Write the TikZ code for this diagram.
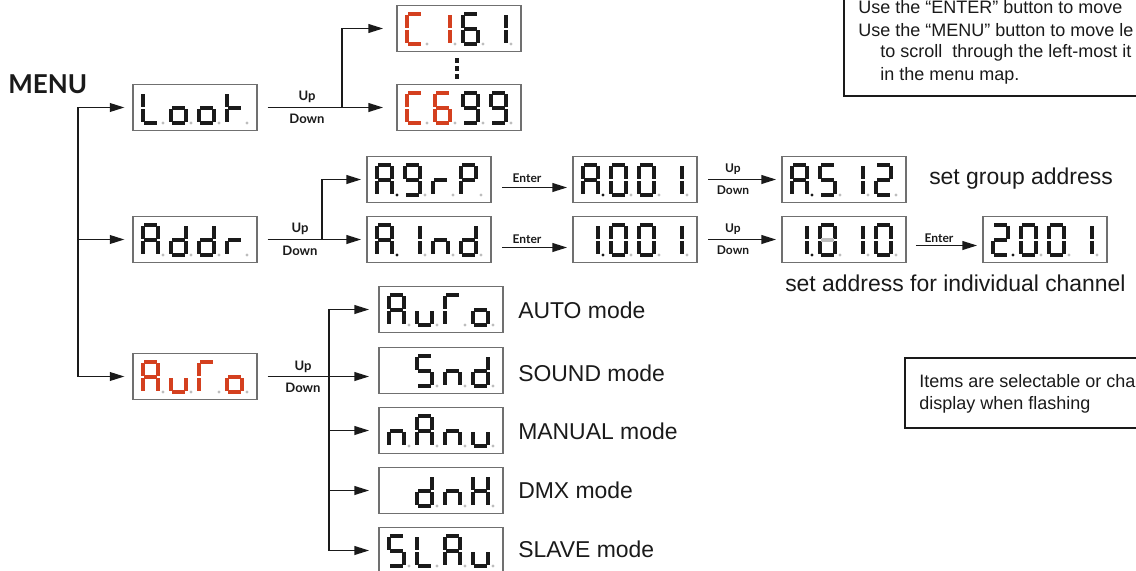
\documentclass[tikz,border=0pt]{standalone}
\usepackage{fontspec}
\setmainfont{Liberation Sans}
\newfontfamily\lbl{Lato}
\usetikzlibrary{arrows.meta}
\definecolor{segblack}{HTML}{1A1A1A}
\definecolor{segred}{HTML}{D4401F}
\definecolor{dpgray}{HTML}{BDBDBD}
\definecolor{boxgray}{HTML}{707070}
% segment sets (a top, b top-right, c bottom-right, d bottom, e bottom-left, f top-left, g middle)
\def\sgA{a,b,c,e,f,g}
\def\sgC{a,d,e,f}
\def\sgH{b,c,e,f,g}
\def\sgL{d,e,f}
\def\sgP{a,b,e,f,g}
\def\sgS{a,c,d,f,g}
\def\sgd{b,c,d,e,g}
\def\sgg{a,b,c,d,f,g}
\def\sgn{c,e,g}
\def\sgo{c,d,e,g}
\def\sgr{e,g}
\def\sgt{e,f,g}
\def\sgu{c,d,e}
\def\sgG{a,e,f}
\def\sgZero{a,b,c,d,e,f}
\def\sgOne{b,c}
\def\sgTwo{a,b,d,e,g}
\def\sgFive{a,c,d,f,g}
\def\sgSix{a,c,d,e,f,g}
\def\sgNine{a,b,c,d,f,g}
\newcommand\drawseg[2]{%
 \if a#1\draw[segl,#2] (1.3,0)--(13.7,0);\fi
 \if b#1\draw[segl,#2] (15,1.3)--(15,13.7);\fi
 \if c#1\draw[segl,#2] (15,16.3)--(15,28.7);\fi
 \if d#1\draw[segl,#2] (1.3,30)--(13.7,30);\fi
 \if e#1\draw[segl,#2] (0,16.3)--(0,28.7);\fi
 \if f#1\draw[segl,#2] (0,1.3)--(0,13.7);\fi
 \if g#1\draw[segl,#2] (1.3,15)--(13.7,15);\fi}
% #1 L, #2 T, #3 slot, #4 glyph macro, #5 colour
\newcommand\dig[5]{\begin{scope}[shift={(#1+10+28*#3,#2+9)}]\foreach \s in #4 {\drawseg{\s}{#5}}\end{scope}}
% decimal points: #1 L, #2 T, #3..#6 colours
\newcommand\dpdots[6]{%
 \fill[#3] (#1+30,#2+39) circle (1.6);
 \fill[#4] (#1+58,#2+39) circle (1.6);
 \fill[#5] (#1+86,#2+39) circle (1.6);
 \fill[#6] (#1+114,#2+39) circle (1.6);}
\newcommand\dbox[3]{\node[dispbox] (#1) at (#2+62,#3+23.5) {};}
\tikzset{
 segl/.style={line width=2.4pt, line cap=butt},
 dispbox/.style={draw=boxgray, line width=0.8pt, minimum width=93pt, minimum height=35pt, inner sep=0pt},
 conn/.style={line width=1.3pt, draw=segblack},
 arr/.style={conn, -{Triangle[length=11pt,width=6.5pt]}, shorten >=4pt},
 udlab/.style={font=\lbl\bfseries\fontsize{9.8}{10}\selectfont, inner sep=0pt, text=segblack},
 smlab/.style={font=\lbl\bfseries\fontsize{9}{10}\selectfont, inner sep=0pt, text=segblack},
 body/.style={font=\fontsize{17.2}{20}\selectfont, inner sep=0pt, anchor=west, text=segblack},
 note/.style={font=\fontsize{13.5}{16}\selectfont, inner sep=0pt, anchor=west, text=segblack},
}
\begin{document}
\begin{tikzpicture}[x=0.75pt,y=-0.75pt]
\useasboundingbox (0,0) rectangle (1136,571);
\clip (0,0) rectangle (1136,571);

\node[font=\lbl\bfseries\fontsize{19.5}{20}\selectfont, anchor=west, inner sep=0pt, text=segblack] (menu) at (8,84) {MENU};

% ---- displays ----
\dbox{loot}{133}{84}
\dig{133}{84}{0}{\sgL}{segblack}\dig{133}{84}{1}{\sgo}{segblack}\dig{133}{84}{2}{\sgo}{segblack}\dig{133}{84}{3}{\sgt}{segblack}
\dpdots{133}{84}{dpgray}{dpgray}{dpgray}{dpgray}

\dbox{addr}{133}{216}
\dig{133}{216}{0}{\sgA}{segblack}\dig{133}{216}{1}{\sgd}{segblack}\dig{133}{216}{2}{\sgd}{segblack}\dig{133}{216}{3}{\sgr}{segblack}
\dpdots{133}{216}{dpgray}{dpgray}{dpgray}{dpgray}

\dbox{auto}{133}{353}
\dig{133}{353}{0}{\sgA}{segred}\dig{133}{353}{1}{\sgu}{segred}\dig{133}{353}{2}{\sgG}{segred}\dig{133}{353}{3}{\sgo}{segred}
\dpdots{133}{353}{dpgray}{dpgray}{dpgray}{dpgray}

\dbox{cfirst}{397}{5}
\dig{397}{5}{0}{\sgC}{segred}\dig{397}{5}{1}{\sgOne}{segred}\dig{397}{5}{2}{\sgSix}{segblack}\dig{397}{5}{3}{\sgOne}{segblack}
\dpdots{397}{5}{dpgray}{dpgray}{dpgray}{dpgray}

\dbox{clast}{397}{84}
\dig{397}{84}{0}{\sgC}{segred}\dig{397}{84}{1}{\sgSix}{segred}\dig{397}{84}{2}{\sgNine}{segblack}\dig{397}{84}{3}{\sgNine}{segblack}
\dpdots{397}{84}{dpgray}{dpgray}{dpgray}{dpgray}

\fill[segblack] (455,58) rectangle (459,63);
\fill[segblack] (455,66) rectangle (459,71);
\fill[segblack] (455,74) rectangle (459,79);

\dbox{agrp}{367}{156}
\dig{367}{156}{0}{\sgA}{segblack}\dig{367}{156}{1}{\sgg}{segblack}\dig{367}{156}{2}{\sgr}{segblack}\dig{367}{156}{3}{\sgP}{segblack}
\dpdots{367}{156}{segblack}{dpgray}{dpgray}{dpgray}

\dbox{aind}{367}{216}
\dig{367}{216}{0}{\sgA}{segblack}\dig{367}{216}{1}{\sgOne}{segblack}\dig{367}{216}{2}{\sgn}{segblack}\dig{367}{216}{3}{\sgd}{segblack}
\dpdots{367}{216}{segblack}{dpgray}{dpgray}{dpgray}

\dbox{aone}{573}{156}
\dig{573}{156}{0}{\sgA}{segblack}\dig{573}{156}{1}{\sgZero}{segblack}\dig{573}{156}{2}{\sgZero}{segblack}\dig{573}{156}{3}{\sgOne}{segblack}
\dpdots{573}{156}{segblack}{dpgray}{dpgray}{dpgray}

\dbox{afive}{782}{156}
\dig{782}{156}{0}{\sgA}{segblack}\dig{782}{156}{1}{\sgFive}{segblack}\dig{782}{156}{2}{\sgOne}{segblack}\dig{782}{156}{3}{\sgTwo}{segblack}
\dpdots{782}{156}{segblack}{dpgray}{dpgray}{dpgray}

\dbox{ione}{573}{216}
\dig{573}{216}{0}{\sgOne}{segblack}\dig{573}{216}{1}{\sgZero}{segblack}\dig{573}{216}{2}{\sgZero}{segblack}\dig{573}{216}{3}{\sgOne}{segblack}
\dpdots{573}{216}{segblack}{dpgray}{dpgray}{dpgray}

\dbox{iten}{782}{216}
\dig{782}{216}{0}{\sgOne}{segblack}\dig{782}{216}{1}{\sgZero}{segblack}\dig{782}{216}{2}{\sgOne}{segblack}\dig{782}{216}{3}{\sgZero}{segblack}
\begin{scope}[shift={(782+38,216+9)}]\drawseg{g}{dpgray}\end{scope}
\dpdots{782}{216}{segblack}{dpgray}{dpgray}{dpgray}

\dbox{itwo}{983}{216}
\dig{983}{216}{0}{\sgTwo}{segblack}\dig{983}{216}{1}{\sgZero}{segblack}\dig{983}{216}{2}{\sgZero}{segblack}\dig{983}{216}{3}{\sgOne}{segblack}
\dpdots{983}{216}{segblack}{dpgray}{dpgray}{dpgray}

\dbox{mauto}{379}{286}
\dig{379}{286}{0}{\sgA}{segblack}\dig{379}{286}{1}{\sgu}{segblack}\dig{379}{286}{2}{\sgG}{segblack}\dig{379}{286}{3}{\sgo}{segblack}
\dpdots{379}{286}{dpgray}{dpgray}{dpgray}{dpgray}

\dbox{msnd}{379}{347}
\dig{379}{347}{1}{\sgS}{segblack}\dig{379}{347}{2}{\sgn}{segblack}\dig{379}{347}{3}{\sgd}{segblack}
\dpdots{379}{347}{white}{dpgray}{dpgray}{dpgray}

\dbox{mmanu}{379}{407}
\dig{379}{407}{0}{\sgn}{segblack}\dig{379}{407}{1}{\sgA}{segblack}\dig{379}{407}{2}{\sgn}{segblack}\dig{379}{407}{3}{\sgu}{segblack}
\dpdots{379}{407}{dpgray}{dpgray}{dpgray}{dpgray}

\dbox{mdmx}{379}{467}
\dig{379}{467}{1}{\sgd}{segblack}\dig{379}{467}{2}{\sgn}{segblack}\dig{379}{467}{3}{\sgH}{segblack}
\dpdots{379}{467}{white}{dpgray}{dpgray}{dpgray}

\dbox{mslav}{379}{527}
\dig{379}{527}{0}{\sgS}{segblack}\dig{379}{527}{1}{\sgL}{segblack}\dig{379}{527}{2}{\sgA}{segblack}\dig{379}{527}{3}{\sgu}{segblack}
\dpdots{379}{527}{dpgray}{dpgray}{dpgray}{dpgray}

% ---- main trunk ----
\coordinate (trunkx) at (78,0);
\draw[arr, shorten >=6pt] (auto.west -| trunkx) |- (loot.west);
\draw[arr, shorten >=6pt] (loot.west -| trunkx) |- (auto.west);
\draw[arr, shorten >=6pt] (addr.west -| trunkx) -- (addr.west);

% ---- Loot branch ----
\coordinate (lootbr) at (342,0);
\draw[arr, shorten <=7.5pt, shorten >=10pt] (loot.east) -- (clast.west);
\draw[arr, shorten >=10pt] (loot.east -| lootbr) |- (cfirst.west);
\node[udlab] (lootup) at (307,97) {Up};
\node[udlab] (lootdown) at (307,119) {Down};

% ---- Addr branch ----
\coordinate (addrbr) at (322,0);
\draw[arr, shorten <=7.5pt] (addr.east) -- (aind.west);
\draw[arr] (addr.east -| addrbr) |- (agrp.west);
\node[udlab] (addrup) at (300,229) {Up};
\node[udlab] (addrdown) at (300,251) {Down};

\draw[arr, shorten <=8pt] ([yshift=-6pt]agrp.east) -- ([yshift=-6pt]aone.west);
\node[smlab] (enterone) at (527,178) {Enter};
\draw[arr, shorten <=8pt] ([yshift=-6pt]aind.east) -- ([yshift=-6pt]ione.west);
\node[smlab] (entertwo) at (527,239) {Enter};

\draw[arr, shorten <=8pt] (aone.east) -- (afive.west);
\node[smlab] (aup) at (733,169) {Up};
\node[smlab] (adown) at (733,190) {Down};
\draw[arr, shorten <=8pt] (ione.east) -- (iten.west);
\node[smlab] (iup) at (733,229) {Up};
\node[smlab] (idown) at (733,250) {Down};
\draw[arr, shorten <=7pt] ([yshift=-4.5pt]iten.east) -- ([yshift=-4.5pt]itwo.west);
\node[smlab] (enterthree) at (939,238) {Enter};

\node[body] (grouptxt) at (929,179) {set group address};
\node[body] (indtxt) at (785,283) {set address for individual channel};

% ---- Auto branch ----
\coordinate (modex) at (329,0);
\draw[arr, shorten <=7.5pt, shorten >=7pt] (auto.east) -- (auto.east -| msnd.west);
\draw[arr, shorten >=7pt] (mslav.west -| modex) |- (mauto.west);
\draw[arr, shorten >=7pt] (mauto.west -| modex) |- (mslav.west);
\draw[arr, shorten >=7pt] (mmanu.west -| modex) -- (mmanu.west);
\draw[arr, shorten >=7pt] (mdmx.west -| modex) -- (mdmx.west);
\node[udlab] (autoup) at (303,367) {Up};
\node[udlab] (autodown) at (303,388) {Down};

\node[body] (tauto) at (518,310) {AUTO mode};
\node[body] (tsnd) at (518,373) {SOUND mode};
\node[body] (tmanu) at (518,431) {MANUAL mode};
\node[body] (tdmx) at (518,490) {DMX mode};
\node[body] (tslav) at (518,549) {SLAVE mode};

% ---- notes ----
\draw[line width=1.6pt, draw=segblack] (844,-10) rectangle (1150,96);
\node[note] (n1) at (858,7) {Use the “ENTER” button to move};
\node[note] (n2) at (858,30) {Use the “MENU” button to move le};
\node[note] (n3) at (880,53) {to scroll\ \ through the left-most it};
\node[note] (n4) at (880,76) {in the menu map.};

\draw[line width=1.6pt, draw=segblack] (905,358) rectangle (1150,428);
\node[note] (f1) at (919,381) {Items are selectable or cha};
\node[note] (f2) at (919,405) {display when flashing};
\end{tikzpicture}
\end{document}
